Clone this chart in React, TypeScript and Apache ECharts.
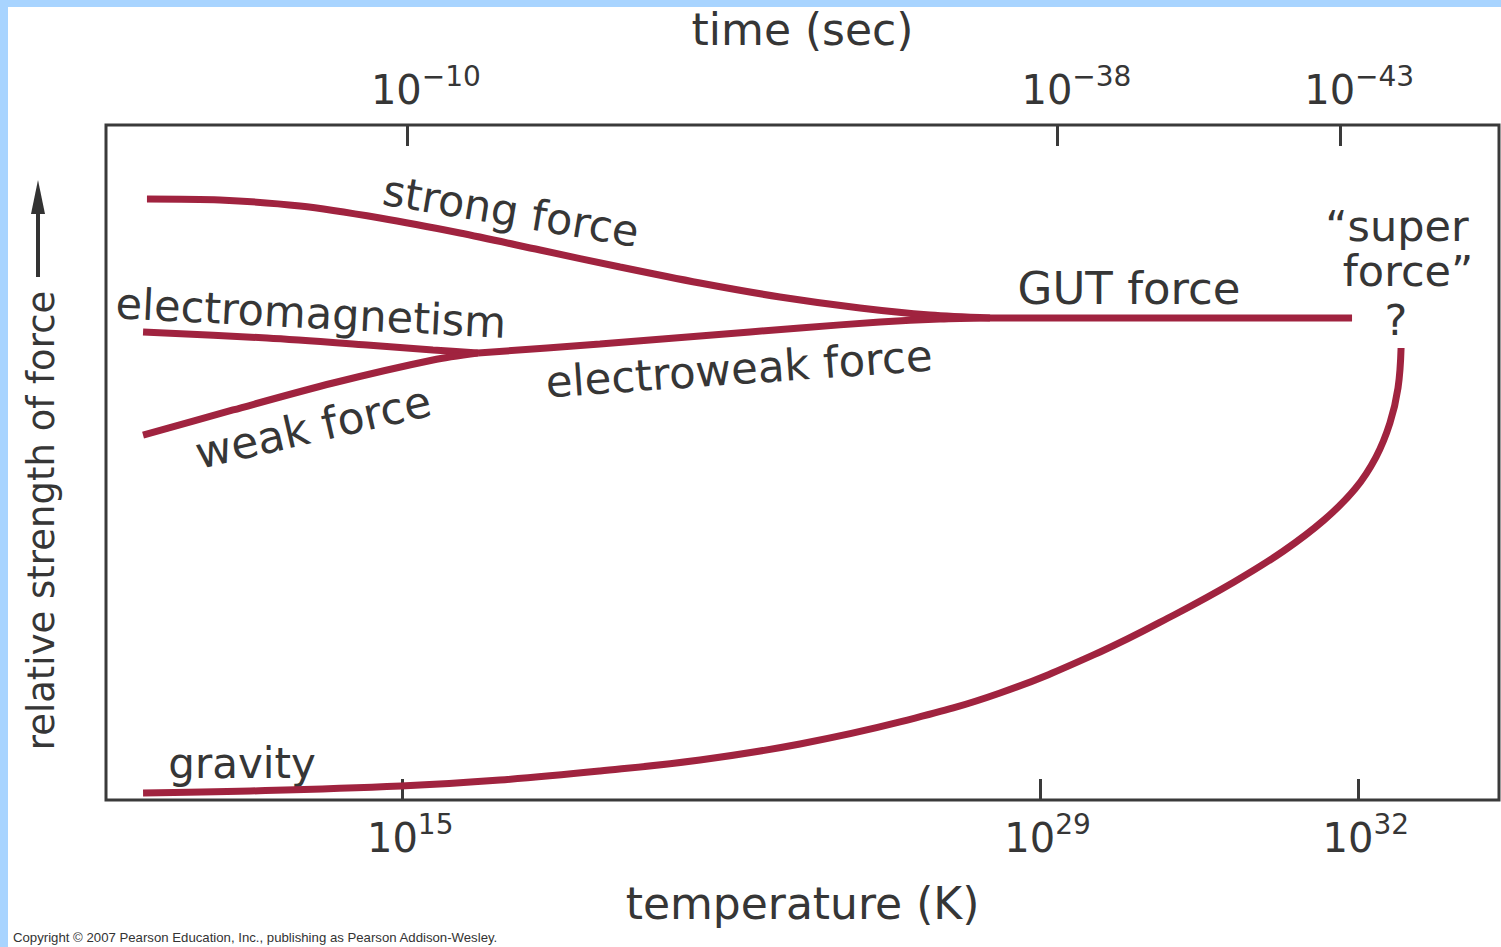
import React, { useEffect, useRef } from "react";
import * as echarts from "echarts";

// Axis tick positions (position along the horizontal axis, 0-100) and labels
const TEMP_POSITIONS = [21.3, 67.05, 89.9];
const TEMP_EXPONENTS = ["15", "29", "32"];
const TIME_POSITIONS = [21.6, 68.3, 88.6];
const TIME_EXPONENTS = ["−10", "−38", "−43"];

// Curves: [position along temperature axis, relative strength]
const strongForce: [number, number][] = [
  [2.94, 89.04], [8.18, 88.89], [13.93, 88.0], [19.67, 86.22], [25.41, 84.0],
  [31.16, 81.48], [36.9, 78.96], [42.64, 76.59], [48.38, 74.52], [54.13, 72.89],
  [59.15, 71.85], [63.46, 71.41],
];
const gutForce: [number, number][] = [
  [63.46, 71.41], [89.45, 71.41],
];
const electromagnetism: [number, number][] = [
  [2.66, 69.33], [11.56, 68.44], [18.74, 67.41], [23.47, 66.67], [26.7, 66.22],
];
const weakForce: [number, number][] = [
  [2.66, 54.07], [9.12, 57.78], [16.3, 61.78], [23.47, 65.19], [26.7, 66.22],
];
const electroweakForce: [number, number][] = [
  [26.7, 66.22], [35.46, 67.56], [42.64, 68.74], [49.82, 69.93], [55.56, 70.81],
  [59.87, 71.26], [63.46, 71.41],
];
const gravity: [number, number][] = [
  [2.66, 1.04], [10.34, 1.33], [21.18, 2.07], [28.28, 2.96], [35.46, 4.3],
  [42.64, 5.93], [49.82, 8.3], [57.0, 11.56], [64.18, 15.85], [71.36, 21.93],
  [76.67, 27.41], [80.98, 32.3], [84.53, 36.89], [87.44, 41.48], [89.66, 46.07],
  [91.17, 50.81], [92.17, 55.85], [92.75, 61.04], [92.97, 66.96],
];

const FONT = "DejaVu Sans";
const TEXT = "#363636";
const RED = "#a0233f";

function nearestIndex(arr: number[], v: number) {
  let best = 0;
  for (let i = 1; i < arr.length; i++) if (Math.abs(arr[i] - v) < Math.abs(arr[best] - v)) best = i;
  return best;
}

const richLabel = {
  b: { fontSize: 40, fontFamily: FONT, color: TEXT, lineHeight: 56 },
  s: { fontSize: 28, fontFamily: FONT, color: TEXT, lineHeight: 26, verticalAlign: "top" },
};

function lineSeries(name: string, data: [number, number][], smooth: number | boolean) {
  return {
    name,
    type: "line",
    data,
    smooth,
    showSymbol: false,
    symbol: "none",
    lineStyle: { color: RED, width: 7, cap: "butt" },
    silent: true,
  };
}

export default function App() {
  const ref = useRef<HTMLDivElement>(null);
  useEffect(() => {
    if (!ref.current) return;
    const chart = echarts.init(ref.current, undefined, { renderer: "svg" });
    const labelText = (text: string, x: number, y: number, rot: number, size = 43) => ({
      type: "text",
      x,
      y,
      rotation: rot,
      style: {
        text,
        fontSize: size,
        fontFamily: FONT,
        fill: TEXT,
        align: "center",
        verticalAlign: "middle",
      },
      silent: true,
    });
    chart.setOption({
      animation: false,
      backgroundColor: "#ffffff",
      grid: {
        left: 106,
        top: 125,
        right: 2,
        bottom: 147,
        show: true,
        borderColor: "#3a3a3a",
        borderWidth: 3,
        backgroundColor: "transparent",
      },
      xAxis: [
        {
          type: "value",
          position: "bottom",
          min: 0,
          max: 100,
          name: "temperature (K)",
          nameLocation: "middle",
          nameGap: 81,
          nameTextStyle: { fontSize: 44, fontFamily: FONT, color: TEXT },
          axisLine: { show: false },
          splitLine: { show: false },
          axisTick: {
            show: true,
            inside: true,
            length: 21,
            customValues: TEMP_POSITIONS,
            lineStyle: { color: "#3a3a3a", width: 3 },
          },
          axisLabel: {
            show: true,
            margin: 10,
            customValues: TEMP_POSITIONS,
            padding: [0, 0, 0, 15],
            formatter: (v: number) => `{b|10}{s|${TEMP_EXPONENTS[nearestIndex(TEMP_POSITIONS, v)]}}`,
            rich: richLabel,
          },
        },
        {
          type: "value",
          position: "top",
          min: 0,
          max: 100,
          name: "time (sec)",
          nameLocation: "middle",
          nameGap: 74,
          nameTextStyle: { fontSize: 44, fontFamily: FONT, color: TEXT },
          axisLine: { show: false },
          splitLine: { show: false },
          axisTick: {
            show: true,
            inside: true,
            length: 21,
            customValues: TIME_POSITIONS,
            lineStyle: { color: "#3a3a3a", width: 3 },
          },
          axisLabel: {
            show: true,
            margin: 7,
            customValues: TIME_POSITIONS,
            padding: [0, 0, 0, 38],
            formatter: (v: number) => `{b|10}{s|${TIME_EXPONENTS[nearestIndex(TIME_POSITIONS, v)]}}`,
            rich: richLabel,
          },
        },
      ],
      yAxis: {
        type: "value",
        min: 0,
        max: 100,
        name: "relative strength of force",
        nameLocation: "middle",
        nameRotate: 90,
        nameGap: 46,
        nameTextStyle: { fontSize: 37, fontFamily: FONT, color: TEXT, padding: [0, 116, 0, 0] },
        axisLine: { show: false },
        axisTick: { show: false },
        axisLabel: { show: false },
        splitLine: { show: false },
      },
      series: [
        lineSeries("strong force", strongForce, 0.3),
        lineSeries("GUT force", gutForce, false),
        lineSeries("electromagnetism", electromagnetism, 0.3),
        lineSeries("weak force", weakForce, 0.3),
        lineSeries("electroweak force", electroweakForce, 0.3),
        lineSeries("gravity", gravity, 0.4),
      ],
      graphic: [
        { type: "rect", shape: { x: 0, y: 0, width: 8, height: 947 }, style: { fill: "#a8d4ff" }, silent: true },
        { type: "rect", shape: { x: 0, y: 0, width: 1501, height: 7 }, style: { fill: "#a8d4ff" }, silent: true },
        labelText("strong force", 511, 211, -0.165),
        labelText("electromagnetism", 311, 313, -0.05),
        labelText("weak force", 313, 427, 0.226, 44),
        labelText("electroweak force", 739, 369, 0.07, 43.5),
        labelText("GUT force", 1129, 288, 0, 45),
        labelText("“super", 1397, 226, 0),
        labelText("force”", 1408, 271, 0),
        labelText("?", 1396, 320, 0),
        labelText("gravity", 242, 763, 0, 42),
        {
          type: "line",
          shape: { x1: 38, y1: 277, x2: 38, y2: 205 },
          style: { stroke: "#333333", lineWidth: 4 },
          silent: true,
        },
        {
          type: "polygon",
          shape: { points: [[38, 180], [31, 214], [45, 214]] },
          style: { fill: "#333333" },
          silent: true,
        },
        {
          type: "text",
          x: 13,
          y: 937,
          style: {
            text: "Copyright © 2007 Pearson Education, Inc., publishing as Pearson Addison-Wesley.",
            fontSize: 13.2,
            fontFamily: "Liberation Sans",
            fill: "#333333",
            align: "left",
            verticalAlign: "middle",
          },
          silent: true,
        },
      ],
    });
    return () => chart.dispose();
  }, []);
  return (
    <div
      ref={ref}
      style={{ position: "fixed", left: 0, top: 0, width: 1501, height: 947, background: "#ffffff" }}
    />
  );
}
